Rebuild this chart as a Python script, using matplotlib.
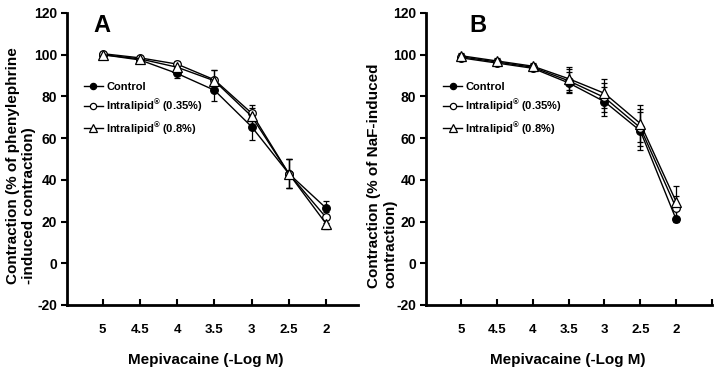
import numpy as np
import matplotlib
matplotlib.use("Agg")
import matplotlib.pyplot as plt
from matplotlib.lines import Line2D

plt.rcParams['font.family'] = ['Liberation Sans', 'DejaVu Sans']
plt.rcParams['font.weight'] = 'bold'
plt.rcParams['axes.unicode_minus'] = False
plt.rcParams['mathtext.fontset'] = 'custom'
plt.rcParams['mathtext.rm'] = 'Liberation Sans:bold'
plt.rcParams['mathtext.bf'] = 'Liberation Sans:bold'

# mepivacaine concentration (-log M)
conc = [5, 4.5, 4, 3.5, 3, 2.5, 2]
conc_labels = ["5", "4.5", "4", "3.5", "3", "2.5", "2"]

series_names = ["Control", r"Intralipid$^{\circledR}$ (0.35%)", r"Intralipid$^{\circledR}$ (0.8%)"]

# panel A: phenylephrine-induced contraction
a_control = [100, 97.5, 91, 83, 65.5, 43, 26.5]
a_control_err = [1, 1.5, 2, 5, 6.5, 7, 3.5]
a_lip035 = [100.5, 98.5, 95.5, 88, 72, 43, 22]
a_lip035_err = [1, 1, 1.5, 4.5, 4, 7, 2.5]
a_lip08 = [100, 98, 94, 87.5, 70.5, 43, 19]
a_lip08_err = [1.5, 1, 2, 5, 4, 7, 2.5]

# panel B: NaF-induced contraction
b_control = [98.5, 96, 93.5, 86.5, 77.5, 63.5, 21]
b_control_err = [1.5, 1.5, 1.5, 5, 7, 9, 1]
b_lip035 = [99, 96.5, 94, 87.5, 79.5, 65, 26.5]
b_lip035_err = [1.5, 1.5, 1.5, 5.5, 7, 9, 6]
b_lip08 = [99.5, 97, 94.5, 88.5, 81.5, 67, 29.5]
b_lip08_err = [1.5, 1.5, 1.5, 5.5, 7, 9, 7.5]

styles = [
    dict(marker='o', mfc='black', mec='black', ms=5.5),
    dict(marker='o', mfc='white', mec='black', ms=5.5),
    dict(marker='^', mfc='white', mec='black', ms=6.5),
]

W, H = 717, 375
fig = plt.figure(figsize=(W / 100, H / 100), dpi=100)


def px_axes(left, right, top, bottom):
    return fig.add_axes([left / W, 1 - bottom / H, (right - left) / W, (bottom - top) / H])


def draw_panel(ax, data, xlim, letter, letter_x, leg_x):
    handles = []
    for (vals, errs), name, st in zip(data, series_names, styles):
        ax.errorbar(conc, vals, yerr=errs, color='black', lw=1, elinewidth=0.9,
                    capsize=2, capthick=0.9, mew=0.9, **st)
        handles.append(Line2D([], [], color='black', lw=1, mew=0.9, label=name,
                              **{k: (v - 1 if k == 'ms' else v) for k, v in st.items()}))
    ax.set_xlim(*xlim)
    ax.set_ylim(-20, 120)
    ax.set_yticks(np.arange(-20, 121, 20))
    ax.set_xticks(conc)
    ax.set_xticklabels(conc_labels)
    for s in ['top', 'right']:
        ax.spines[s].set_visible(False)
    for s in ['left', 'bottom']:
        ax.spines[s].set_linewidth(2)
    ax.tick_params(axis='y', direction='out', length=4, width=1.5, labelsize=10, pad=3)
    ax.tick_params(axis='x', direction='in', length=4, width=1.5, labelsize=9.5, pad=14)
    for lab in ax.get_xticklabels() + ax.get_yticklabels():
        lab.set_fontweight('bold')
    fig.text(letter_x / W, 1 - 25 / H, letter, fontsize=17, fontweight='bold',
             ha='center', va='center')
    ax.legend(handles=handles, loc='upper left', bbox_to_anchor=leg_x, frameon=False,
              fontsize=8, handlelength=1.7, handletextpad=0.3, labelspacing=0.55,
              borderpad=0, borderaxespad=0)


ax_a = px_axes(67, 358, 13, 305)
draw_panel(ax_a, [(a_control, a_control_err), (a_lip035, a_lip035_err), (a_lip08, a_lip08_err)],
           (5.48, 1.57), "A", 102, (0.058, 0.765))

ax_b = px_axes(426, 712, 13, 305)
draw_panel(ax_b, [(b_control, b_control_err), (b_lip035, b_lip035_err), (b_lip08, b_lip08_err)],
           (5.49, 1.5), "B", 478, (0.06, 0.765))
ax_b.tick_params(axis='x', which='minor', direction='in', length=4, width=1.5)
ax_b.set_xticks([1.5], minor=True)

fig.text(21 / W, 1 - 166 / H, "Contraction (% of phenylephrine\n-induced contraction)",
         rotation=90, ha='center', va='center', multialignment='left',
         fontsize=11, fontweight='bold', linespacing=1.2)
fig.text(382 / W, 1 - 176 / H, "Contraction (% of NaF-induced\ncontraction)",
         rotation=90, ha='center', va='center', multialignment='left',
         fontsize=11, fontweight='bold', linespacing=1.2)

fig.text(206 / W, 1 - 360 / H, "Mepivacaine (-Log M)", ha='center', va='center',
         fontsize=11, fontweight='bold')
fig.text(568 / W, 1 - 360 / H, "Mepivacaine (-Log M)", ha='center', va='center',
         fontsize=11, fontweight='bold')

fig.savefig("out.png", dpi=100)
